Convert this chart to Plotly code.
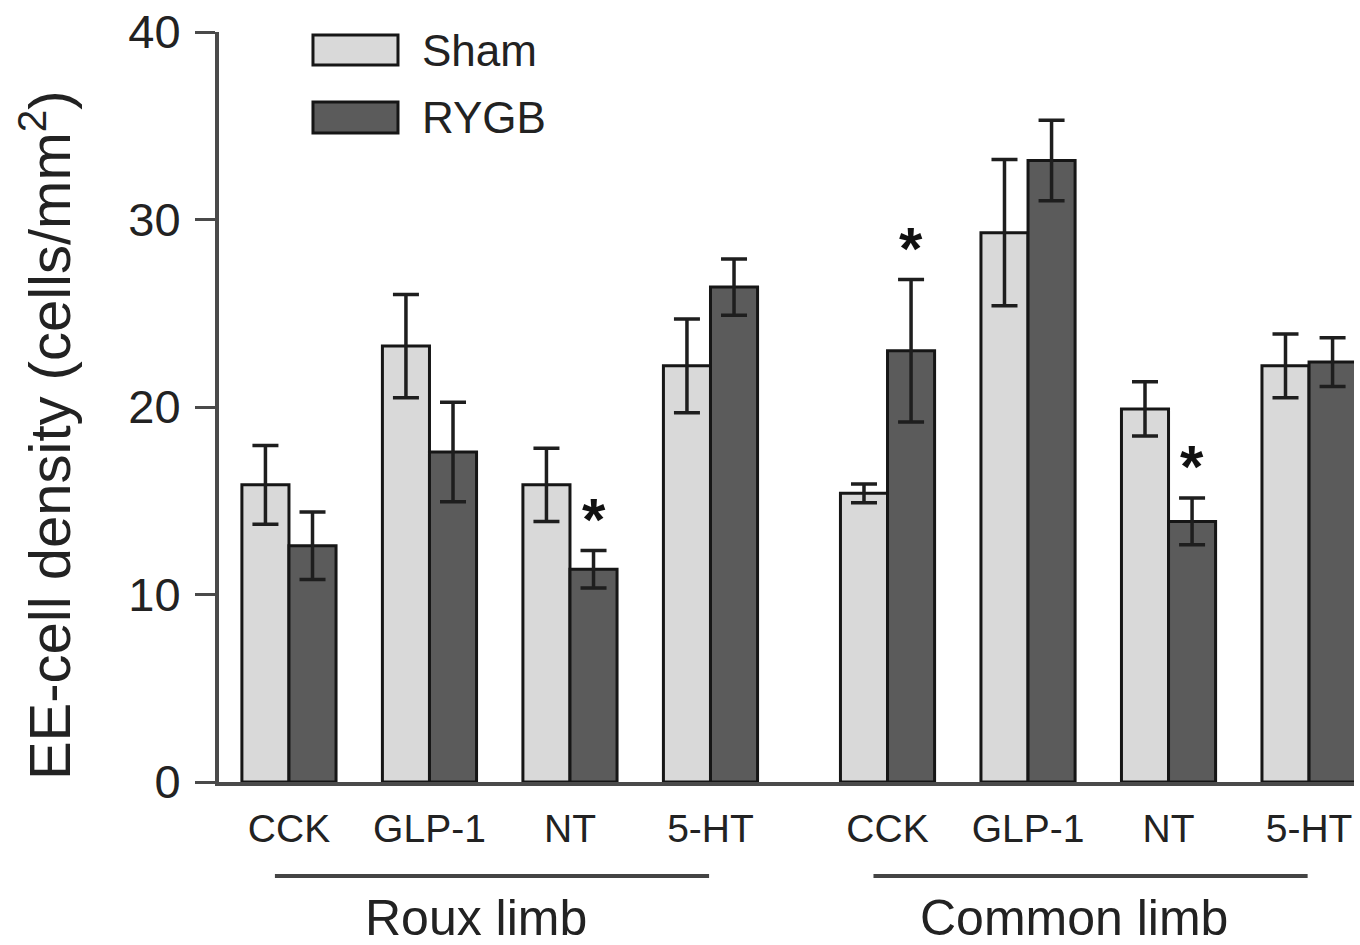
import plotly.graph_objects as go

# ---- data ----
markers = ["CCK", "GLP-1", "NT", "5-HT", "CCK", "GLP-1", "NT", "5-HT"]
limbs = ["Roux limb"] * 4 + ["Common limb"] * 4
sham = [15.85, 23.25, 15.85, 22.2, 15.4, 29.3, 19.9, 22.2]
sham_err = [2.1, 2.75, 1.95, 2.5, 0.5, 3.9, 1.45, 1.7]
rygb = [12.6, 17.6, 11.35, 26.4, 23.0, 33.15, 13.9, 22.4]
rygb_err = [1.8, 2.65, 1.0, 1.5, 3.8, 2.15, 1.25, 1.3]
rygb_sig = [False, False, True, False, True, False, True, False]
y_ticks = [0, 10, 20, 30, 40]
y_title = "EE-cell density (cells/mm<sup>2</sup>)"

# ---- layout helpers ----
group_gap = 0.26
limb_order = ["Roux limb", "Common limb"]
xpos = [i + group_gap * limb_order.index(l) for i, l in enumerate(limbs)]
bargap = 0.33
bar_w = (1 - bargap) / 2

SHAM_FILL = "#d9d9d9"
RYGB_FILL = "#5b5b5b"
OUTLINE = "#161616"
AXIS = "#4a4a4a"
FONT = "Liberation Sans, Arial, sans-serif"

fig = go.Figure()
fig.add_trace(go.Bar(
    x=xpos, y=sham, name="Sham",
    marker=dict(color=SHAM_FILL, line=dict(color=OUTLINE, width=3)),
    error_y=dict(type="data", array=sham_err, visible=True, color="#1e1e1e",
                 thickness=3.5, width=13),
))
fig.add_trace(go.Bar(
    x=xpos, y=rygb, name="RYGB",
    marker=dict(color=RYGB_FILL, line=dict(color=OUTLINE, width=3)),
    error_y=dict(type="data", array=rygb_err, visible=True, color="#1e1e1e",
                 thickness=3.5, width=13),
))

# significance asterisks above RYGB bars
for x, v, e, s in zip(xpos, rygb, rygb_err, rygb_sig):
    if s:
        fig.add_annotation(x=x + bar_w / 2, y=v + e + 2.1, text="<b>*</b>",
                           showarrow=False, yanchor="middle", yshift=-8,
                           font=dict(size=60, color="#111", family=FONT))

# custom legend
legend_items = [("Sham", SHAM_FILL, 0.996, 0.956), ("RYGB", RYGB_FILL, 0.9067, 0.8653)]
for name, fill, y1, y0 in legend_items:
    fig.add_shape(type="rect", xref="paper", yref="paper",
                  x0=0.0828, x1=0.1577, y0=y0, y1=y1,
                  fillcolor=fill, line=dict(color=OUTLINE, width=3))
    fig.add_annotation(xref="paper", yref="paper", x=0.177, y=(y0 + y1) / 2,
                       text=name, showarrow=False, xanchor="left", yanchor="middle",
                       font=dict(size=44, color="#222", family=FONT))

# limb grouping lines and labels
for limb in limb_order:
    idx = [i for i, l in enumerate(limbs) if l == limb]
    x_first, x_last = xpos[idx[0]], xpos[idx[-1]]
    fig.add_shape(type="line", xref="x", yref="paper",
                  x0=x_first - 0.1, x1=x_last - 0.01, y0=-0.1253, y1=-0.1253,
                  line=dict(color="#444", width=4))
    fig.add_annotation(xref="x", yref="paper", x=(x_first + x_last) / 2 - 0.17,
                       y=-0.181, text=limb, showarrow=False, yanchor="middle",
                       font=dict(size=50, color="#222", family=FONT))

# y-axis title (as rotated annotation so it can sit slightly below centre)
fig.add_annotation(xref="paper", yref="paper", x=-0.153, y=0.463,
                   text=y_title, textangle=-90, showarrow=False,
                   xanchor="center", yanchor="middle",
                   font=dict(size=58, color="#222", family=FONT))

fig.update_layout(
    width=1360, height=945,
    margin=dict(l=219, r=6, t=32, b=163),
    paper_bgcolor="white", plot_bgcolor="white",
    barmode="group", bargap=bargap, bargroupgap=0,
    showlegend=False,
    font=dict(family=FONT, color="#222"),
)
fig.update_xaxes(
    range=[-0.498, 7.58],
    tickvals=xpos, ticktext=markers,
    ticks="", showline=True, linecolor=AXIS, linewidth=4,
    showgrid=False, zeroline=False,
    tickfont=dict(size=39, color="#222", family=FONT),
    ticklabelstandoff=9,
)
fig.update_yaxes(
    range=[0, 40], tickvals=y_ticks,
    ticks="outside", ticklen=20, tickwidth=3, tickcolor=AXIS,
    showline=True, linecolor=AXIS, linewidth=4,
    showgrid=False, zeroline=False,
    tickfont=dict(size=47, color="#222", family=FONT),
    ticklabelstandoff=5,
)

fig.write_html("out.html")
